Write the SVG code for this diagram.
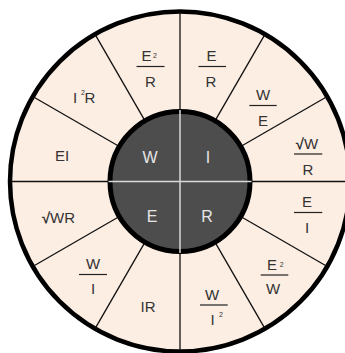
<svg xmlns="http://www.w3.org/2000/svg" width="345" height="353" viewBox="0 0 345 353">
<style>
.ring{fill:#fdeee3;stroke:#000;stroke-width:4.5}
.hub{fill:#4d4d4d;stroke:#000;stroke-width:5}
.div{stroke:#111;stroke-width:1.3;fill:none}
.cross{stroke:#d9d9d9;stroke-width:1.5;fill:none}
.bar{stroke:#222;stroke-width:1.2}
.t{font-family:"Liberation Sans",Arial,sans-serif;font-size:15px;fill:#333;text-anchor:middle}
.s{font-family:"Liberation Sans",Arial,sans-serif;font-size:7px;fill:#333;text-anchor:middle}
.in{font-family:"Liberation Sans",Arial,sans-serif;font-size:16px;fill:#e6e6e6;text-anchor:middle}
.rad{font-weight:bold}
</style>
<rect width="345" height="353" fill="#fff"/>
<circle class="ring" cx="180" cy="181.5" r="170"/>
<g id="connectors">
<line class="div" x1="180" y1="12.5" x2="180" y2="350.5"/>
<line class="div" x1="11" y1="181.5" x2="349" y2="181.5"/>
<line class="div" x1="216" y1="119.1" x2="264.5" y2="35.1"/>
<line class="div" x1="242.4" y1="145.5" x2="326.4" y2="97"/>
<line class="div" x1="242.4" y1="217.5" x2="326.4" y2="266"/>
<line class="div" x1="216" y1="243.9" x2="264.5" y2="327.9"/>
<line class="div" x1="144" y1="243.9" x2="95.5" y2="327.9"/>
<line class="div" x1="117.6" y1="217.5" x2="33.6" y2="266"/>
<line class="div" x1="117.6" y1="145.5" x2="33.6" y2="97"/>
<line class="div" x1="144" y1="119.1" x2="95.5" y2="35.1"/>
</g>
<circle class="hub" cx="180" cy="181.5" r="70"/>
<g id="hub-cross">
<line class="cross" x1="180" y1="110" x2="180" y2="253"/>
<line class="cross" x1="108.5" y1="181.5" x2="251.5" y2="181.5"/>
</g>
<g id="hub-W"><text class="in" x="150" y="162.5">W</text></g>
<g id="hub-I"><text class="in" x="208" y="162.5">I</text></g>
<g id="hub-E"><text class="in" x="152" y="221.5">E</text></g>
<g id="hub-R"><text class="in" x="207" y="221.5">R</text></g>

<g id="s-E2R">
<text class="t" x="146.5" y="61">E</text><text class="s" x="155" y="58">2</text>
<line class="bar" x1="136.5" y1="66.5" x2="164.5" y2="66.5"/>
<text class="t" x="150.5" y="87">R</text>
</g>
<g id="s-ER">
<text class="t" x="211.5" y="61">E</text>
<line class="bar" x1="198.5" y1="66.5" x2="226" y2="66.5"/>
<text class="t" x="211" y="87">R</text>
</g>
<g id="s-WE">
<text class="t" x="263" y="100">W</text>
<line class="bar" x1="249.3" y1="105.5" x2="276.7" y2="105.5"/>
<text class="t" x="263" y="125.5">E</text>
</g>
<g id="s-sqWR-frac">
<text class="t" x="307" y="148.5"><tspan class="rad">√</tspan>W</text>
<line class="bar" x1="294" y1="154" x2="322.3" y2="154"/>
<text class="t" x="308" y="174.5">R</text>
</g>
<g id="s-EI-frac">
<text class="t" x="307" y="207">E</text>
<line class="bar" x1="294" y1="212.5" x2="322.3" y2="212.5"/>
<text class="t" x="307" y="233">I</text>
</g>
<g id="s-E2W">
<text class="t" x="272" y="269.5">E</text><text class="s" x="281.7" y="266.5">2</text>
<line class="bar" x1="260.7" y1="275" x2="288.3" y2="275"/>
<text class="t" x="273" y="294">W</text>
</g>
<g id="s-WI2">
<text class="t" x="212" y="299.5">W</text>
<line class="bar" x1="200" y1="305" x2="227.7" y2="305"/>
<text class="t" x="212.7" y="325">I</text><text class="s" x="221" y="317">2</text>
</g>
<g id="s-IR"><text class="t" x="148" y="311.5">IR</text></g>
<g id="s-WI">
<text class="t" x="93" y="269">W</text>
<line class="bar" x1="79" y1="274.5" x2="107" y2="274.5"/>
<text class="t" x="93" y="294">I</text>
</g>
<g id="s-sqWR"><text class="t" x="58.5" y="223"><tspan class="rad">√</tspan>WR</text></g>
<g id="s-EI"><text class="t" x="62" y="160.5">EI</text></g>
<g id="s-I2R">
<text class="t" x="75" y="102.5">I</text><text class="s" x="83" y="95">2</text>
<text class="t" x="90" y="102.5">R</text>
</g>
</svg>
